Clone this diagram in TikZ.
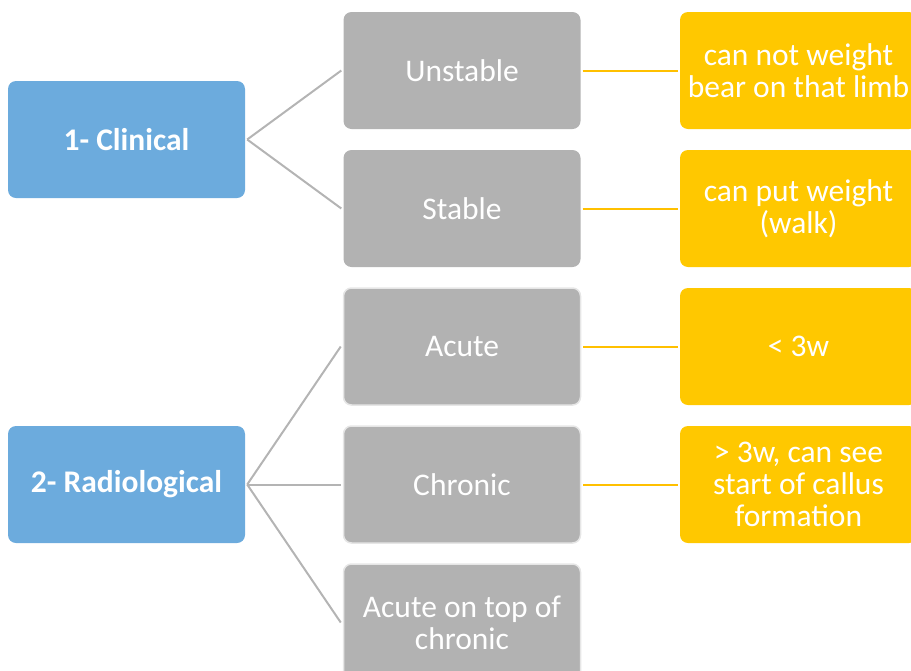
\documentclass[tikz,border=0pt]{standalone}
\usepackage{fontspec}
\setmainfont{Carlito}
\definecolor{bluebox}{HTML}{6CABDD}
\definecolor{graybox}{HTML}{B2B2B2}
\definecolor{yellowbox}{HTML}{FFC800}
\definecolor{grayline}{HTML}{B4B4B4}
\definecolor{yellowline}{HTML}{FFC000}
\definecolor{lightedge}{HTML}{E6E6E6}
\begin{document}
\begin{tikzpicture}[x=1pt,y=-1pt,
  box/.style={minimum width=237pt,minimum height=117pt,inner sep=0pt,rounded corners=8pt,
    text=white,align=center,font=\fontsize{31.5}{32}\selectfont},
  catbox/.style={box,fill=bluebox,font=\fontsize{31.5}{32}\selectfont\bfseries},
  subbox/.style={box,fill=graybox},
  subboxe/.style={box,fill=graybox,draw=lightedge,line width=1.5pt},
  descbox/.style={box,fill=yellowbox},
  gline/.style={draw=grayline,line width=2pt},
  yline/.style={draw=yellowline,line width=2pt}]
\useasboundingbox (0,0) rectangle (911,670);
\clip (0,0) rectangle (911,670);
\node[catbox] (c1) at (126.5,139.5) {1- Clinical};
\node[catbox] (c2) at (126.5,484.5) {2- Radiological};
\node[subbox] (u) at (462,70.5) {Unstable};
\node[subbox] (s) at (462,208.5) {Stable};
\node[subboxe] (a) at (462,346.5) {Acute};
\node[subboxe] (ch) at (462,484.5) {Chronic};
\node[subboxe] (ac) at (462,622.5) {Acute on top of\\chronic};
\node[descbox] (du) at (798.5,70.5) {can not weight\\bear on that limb};
\node[descbox] (ds) at (798.5,208.5) {can put weight\\(walk)};
\node[descbox] (da) at (798.5,346.5) {< 3w};
\node[descbox] (dch) at (798.5,484.5) {> 3w, can see\\start of callus\\formation};
\draw[gline] ([xshift=2pt]c1.east) -- ([xshift=-2pt]u.west);
\draw[gline] ([xshift=2pt]c1.east) -- ([xshift=-2pt]s.west);
\draw[gline] ([xshift=2pt]c2.east) -- ([xshift=-2pt]a.west);
\draw[gline] ([xshift=2pt]c2.east) -- ([xshift=-2pt]ch.west);
\draw[gline] ([xshift=2pt]c2.east) -- ([xshift=-2pt]ac.west);
\draw[yline] ([xshift=2pt]u.east) -- ([xshift=-2pt]du.west);
\draw[yline] ([xshift=2pt]s.east) -- ([xshift=-2pt]ds.west);
\draw[yline] ([xshift=2pt]a.east) -- ([xshift=-2pt]da.west);
\draw[yline] ([xshift=2pt]ch.east) -- ([xshift=-2pt]dch.west);
\end{tikzpicture}
\end{document}
